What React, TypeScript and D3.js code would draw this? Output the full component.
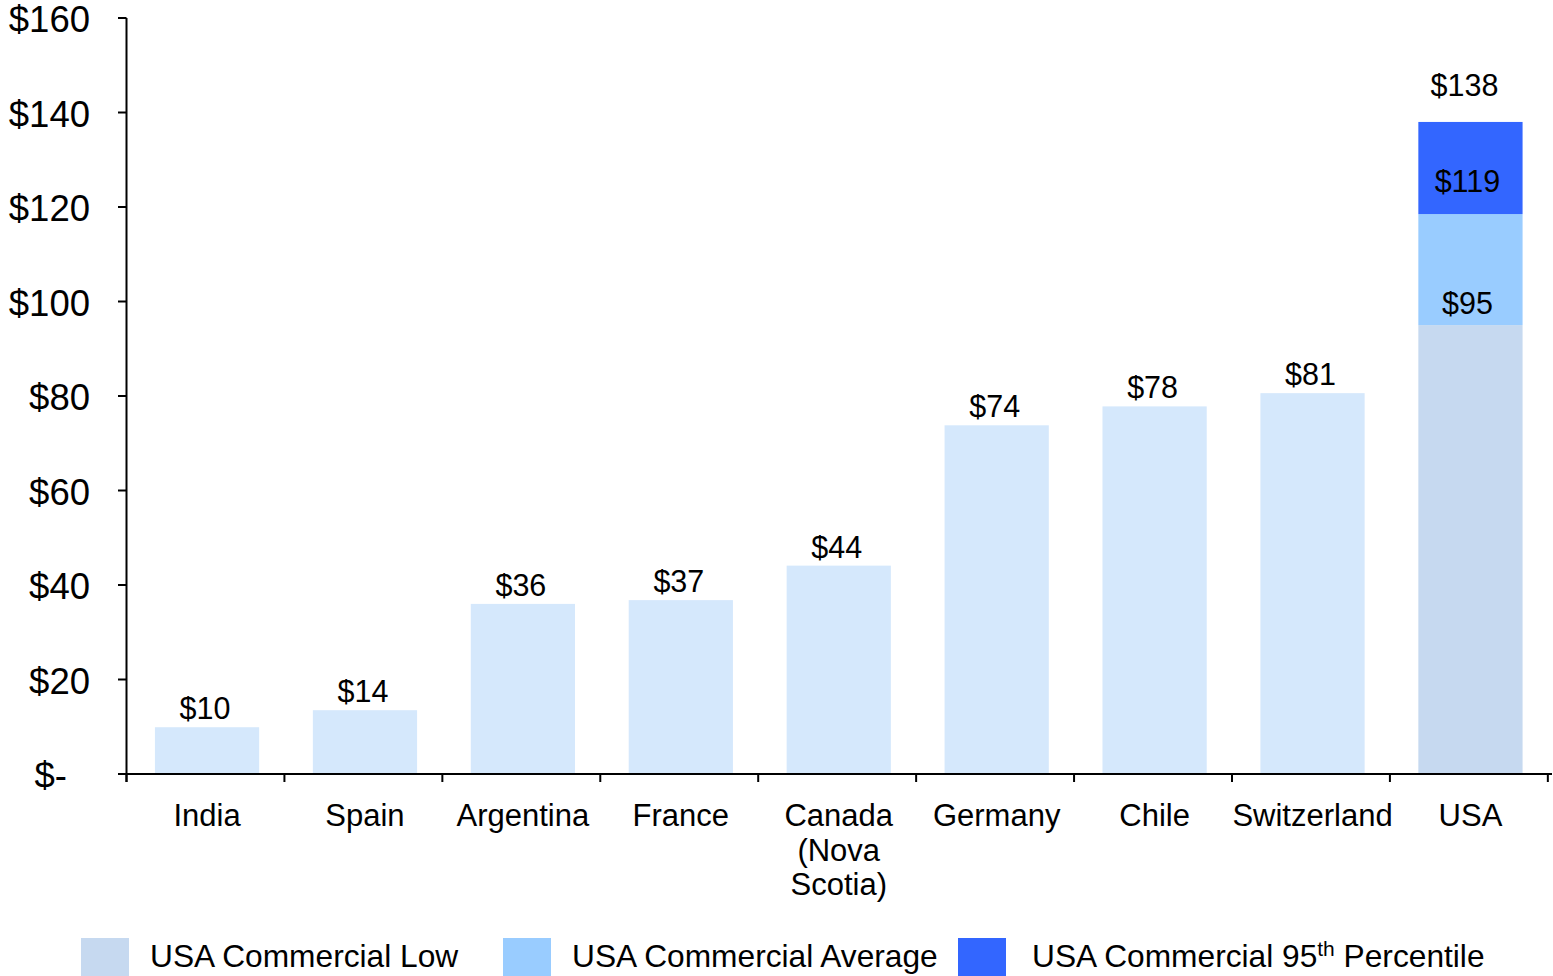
import React from 'react';
import * as d3 from 'd3';

// countries, cheapest first; USA is the last, stacked category
const categories = ['India', 'Spain', 'Argentina', 'France', 'Canada\n(Nova\nScotia)', 'Germany', 'Chile', 'Switzerland', 'USA'];
const countryValues = [9.9, 13.5, 36, 36.8, 44.1, 73.8, 77.8, 80.6];

// USA stack: low, average, 95th percentile (cumulative tops)
const usaSeries = ['USA Commercial Low', 'USA Commercial Average', 'USA Commercial 95th Percentile'];
const usaTops = [95, 118.5, 138];

const yTicks = [0, 20, 40, 60, 80, 100, 120, 140, 160];

const W = 1553;
const H = 976;
const FONT = '"Liberation Sans", Arial, sans-serif';
const countryColor = '#d5e8fc';
const usaColors = ['#c6d9f0', '#99ccff', '#3366ff'];

const fmt = (v: number) => (v === 0 ? '$-' : `$${Math.round(v)}`);

const App = () => {
  const x = d3.scaleBand<string>()
    .domain(categories)
    .range([126.5, 1551])
    .paddingInner(0.34)
    .paddingOuter(0.18);

  const y = d3.scaleLinear().domain([0, 160]).range([774, 18]);

  const step = x.step();
  const x0 = 126.5;
  const bounds = d3.range(categories.length + 1).map(i => x0 + i * step);

  const usa = categories[categories.length - 1];
  const usaStack = usaTops.map((top, i) => ({ lo: i === 0 ? 0 : usaTops[i - 1], hi: top, color: usaColors[i] }));

  const legendX = [81, 503, 958];
  const mid = (c: string) => x(c)! + x.bandwidth() / 2;

  return (
    <>
      <style>{'body{margin:0}'}</style>
      <svg width={W} height={H} style={{ display: 'block', fontFamily: FONT }}>
        <rect width={W} height={H} fill="#fff" />

        {/* country bars */}
        {countryValues.map((v, i) => (
          <g key={categories[i]}>
            <rect x={x(categories[i])} y={y(v)} width={x.bandwidth()} height={y(0) - y(v)} fill={countryColor} />
            <text x={mid(categories[i]) - 2} y={y(v) - 8} textAnchor="middle" fontSize={30.5} fill="#000">
              {fmt(v)}
            </text>
          </g>
        ))}

        {/* USA stacked bar */}
        {usaStack.map((s, i) => (
          <rect key={i} x={x(usa)} y={y(s.hi)} width={x.bandwidth()} height={y(s.lo) - y(s.hi)} fill={s.color} />
        ))}
        {usaTops.slice(0, 2).map((v, i) => (
          <text key={i} x={mid(usa) - 3} y={y(v) - (i === 0 ? 11 : 22)} textAnchor="middle" fontSize={30.5} fill="#000">
            {fmt(v)}
          </text>
        ))}
        <text x={mid(usa) - 6} y={y(usaTops[2]) - 26} textAnchor="middle" fontSize={30.5} fill="#000">
          {fmt(usaTops[2])}
        </text>

        {/* y axis */}
        <line x1={126.5} x2={126.5} y1={y(160)} y2={y(0) + 8} stroke="#000" strokeWidth={2} />
        {yTicks.map(t => (
          <g key={t}>
            <line x1={118} x2={126.5} y1={y(t)} y2={y(t)} stroke="#000" strokeWidth={2} />
            <text x={t === 0 ? 67 : 90} y={y(t) + 14} textAnchor="end" fontSize={36.5} fill="#000">
              {fmt(t)}
            </text>
          </g>
        ))}

        {/* x axis */}
        <line x1={118} x2={1552} y1={y(0)} y2={y(0)} stroke="#000" strokeWidth={2} />
        {bounds.map((b, i) => (
          <line key={i} x1={b} x2={b} y1={y(0)} y2={y(0) + 8} stroke="#000" strokeWidth={2} />
        ))}
        {categories.map(c => (
          <text key={c} x={mid(c)} y={826} textAnchor="middle" fontSize={31} fill="#000">
            {c.split('\n').map((line, j) => (
              <tspan key={j} x={mid(c)} dy={j === 0 ? 0 : 34.5}>{line}</tspan>
            ))}
          </text>
        ))}

        {/* legend */}
        {usaSeries.map((s, i) => (
          <g key={s}>
            <rect x={legendX[i]} y={938} width={48} height={40} fill={usaColors[i]} />
            <text x={legendX[i] + (i === 2 ? 74 : 69)} y={967} fontSize={31.7} fill="#000">
              {i === 2 ? (
                <>
                  USA Commercial 95<tspan fontSize={21} dy={-11}>th</tspan>
                  <tspan dy={11}> Percentile</tspan>
                </>
              ) : s}
            </text>
          </g>
        ))}
      </svg>
    </>
  );
};

export default App;
